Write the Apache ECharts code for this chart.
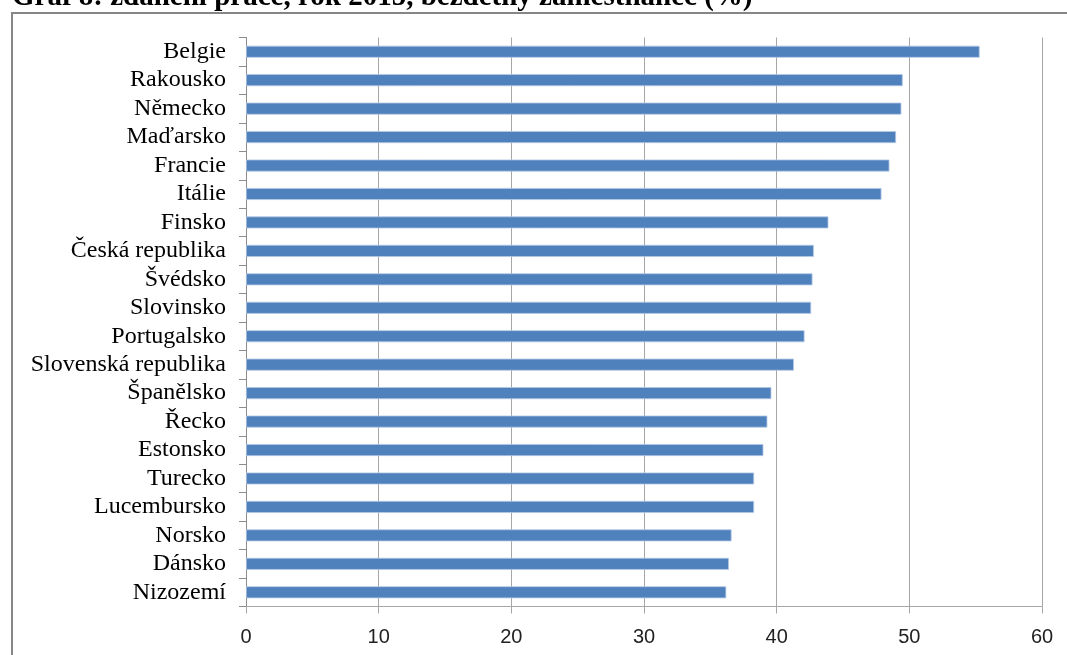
<!DOCTYPE html>
<html>
<head>
<meta charset="utf-8">
<script src="https://cdn.jsdelivr.net/npm/echarts@6/dist/echarts.min.js"></script>
<style>
html,body{margin:0;padding:0;background:#fff;}
#c{width:1067px;height:655px;}
</style>
</head>
<body>
<div id="c"></div>
<script>
const categories = ["Belgie","Rakousko","Německo","Maďarsko","Francie","Itálie","Finsko","Česká republika","Švédsko","Slovinsko","Portugalsko","Slovenská republika","Španělsko","Řecko","Estonsko","Turecko","Lucembursko","Norsko","Dánsko","Nizozemí"];
const values = [55.3,49.5,49.4,49.0,48.5,47.9,43.9,42.8,42.7,42.6,42.1,41.3,39.6,39.3,39.0,38.3,38.3,36.6,36.4,36.2];
const xTicks = [0,10,20,30,40,50,60];
const titleText = "Graf 8: zdanění práce, rok 2015, bezdětný zaměstnanec (%)";

const chart = echarts.init(document.getElementById('c'), null, {renderer:'canvas'});
chart.setOption({
  animation:false,
  backgroundColor:'#fff',
  graphic:[
    {type:'rect', shape:{x:12, y:13, width:1080, height:700}, style:{fill:'none', stroke:'#868686', lineWidth:2}, z:0},
    {type:'text', left:12, top:-17, style:{text:titleText, font:'bold 29px "Liberation Serif", "Times New Roman", serif', fill:'#000'}, z:10}
  ],
  grid:{left:246, right:25, top:37.5, bottom:48.5, containLabel:false},
  xAxis:{
    type:'value', min:xTicks[0], max:xTicks[xTicks.length-1], interval:10,
    axisLine:{show:true, lineStyle:{color:'#a6a6a6', width:1}},
    axisTick:{show:true, length:7, lineStyle:{color:'#a6a6a6'}},
    axisLabel:{color:'#222', fontSize:20, fontFamily:'"Liberation Sans", Arial, sans-serif', margin:21},
    splitLine:{show:true, lineStyle:{color:'#a6a6a6', width:1}}
  },
  yAxis:{
    type:'category', data:categories, inverse:true,
    axisLine:{show:true, lineStyle:{color:'#8c8c8c', width:1}},
    axisTick:{show:true, length:7, lineStyle:{color:'#8c8c8c'}},
    axisLabel:{interval:0, color:'#000', fontSize:24, fontFamily:'"Liberation Serif", "Times New Roman", serif', margin:20}
  },
  series:[{
    type:'bar', data:values, barWidth:12,
    itemStyle:{color:'#4F81BD', borderColor:'#b4c8e4', borderWidth:0.8}
  }]
});
</script>
</body>
</html>
